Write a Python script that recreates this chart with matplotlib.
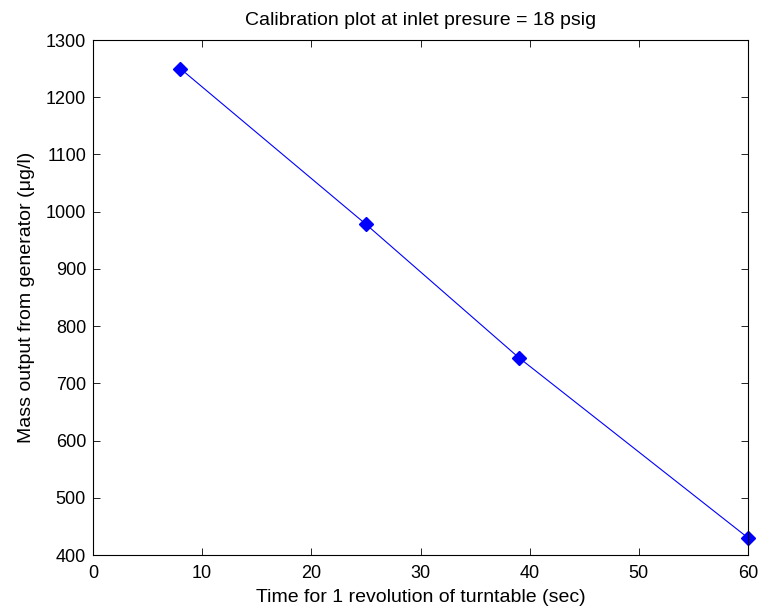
import matplotlib.pyplot as plt

plt.rcParams['font.family'] = ['Liberation Sans', 'DejaVu Sans']

# time for one revolution (sec) vs mass output (ug/l)
t_sec = [8, 25, 39, 60]
mass = [1250, 978, 745, 430]

xticks = [0, 10, 20, 30, 40, 50, 60]
yticks = [400, 500, 600, 700, 800, 900, 1000, 1100, 1200, 1300]

fig = plt.figure(figsize=(7.62, 6.13), dpi=100)
# axes box: x 93..748 px, y 40..555 px
ax = fig.add_axes([93/762, 58/613, 655/762, 515/613])

ax.plot(t_sec, mass, color='blue', lw=0.8, marker='D', ms=7,
        markerfacecolor='blue', markeredgecolor='blue', clip_on=False)

ax.set_xlim(0, 60)
ax.set_ylim(400, 1300)
ax.set_xticks(xticks)
ax.set_yticks(yticks)
ax.tick_params(direction='in', top=True, right=True, labelsize=13,
               length=5, width=0.6)
ax.tick_params(axis='x', pad=7)
ax.tick_params(axis='y', pad=5)
for s in ax.spines.values():
    s.set_linewidth(0.8)

ax.set_title('Calibration plot at inlet presure = 18 psig', fontsize=14, pad=11)
ax.set_xlabel('Time for 1 revolution of turntable (sec)', fontsize=14, labelpad=5)
ax.set_ylabel('Mass output from generator (\u03bcg/l)', fontsize=14, labelpad=8)

fig.savefig('out.png', dpi=100)
